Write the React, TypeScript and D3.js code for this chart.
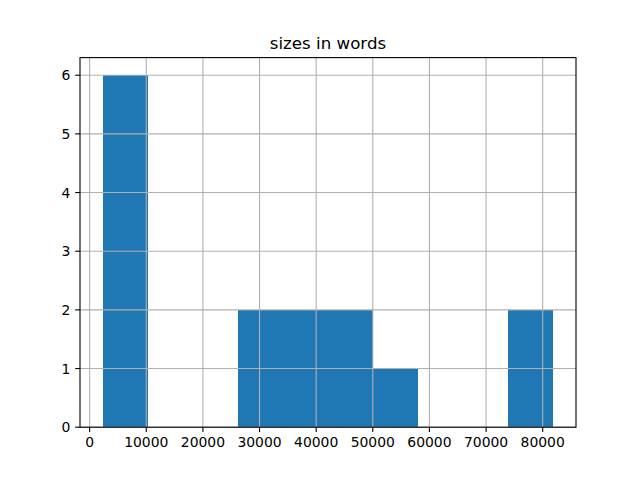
import React from "react";
import * as d3 from "d3";

const title = "sizes in words";
const counts = [6, 0, 0, 2, 2, 2, 1, 0, 0, 2];
const dataMin = 2280;
const dataMax = 81900;
const xTicks = [0, 10000, 20000, 30000, 40000, 50000, 60000, 70000, 80000];
const yTicks = [0, 1, 2, 3, 4, 5, 6];

const W = 640;
const H = 480;
const L = 80, R = 576, T = 57.6, B = 427.2;

export default function App() {
  const nb = counts.length;
  const bw = (dataMax - dataMin) / nb;
  const bins = counts.map((c, i) => ({ x0: dataMin + i * bw, x1: dataMin + (i + 1) * bw, c }));
  const pad = (dataMax - dataMin) * 0.05;
  const x = d3.scaleLinear().domain([dataMin - pad, dataMax + pad]).range([L, R]);
  const yMax = (d3.max(counts) as number) * 1.05;
  const y = d3.scaleLinear().domain([0, yMax]).range([B, T]);
  const font = "DejaVu Sans";
  const tl = 4.86;
  return (
    <svg width={W} height={H} style={{ position: "absolute", left: 0, top: 0, background: "#fff" }} fontFamily={font}>
      <rect x={0} y={0} width={W} height={H} fill="#fff" />
      <g shapeRendering="crispEdges">
        {bins.filter(b => b.c > 0).map((b, i) => (
          <rect key={i} x={x(b.x0)} y={y(b.c)} width={x(b.x1) - x(b.x0)} height={B - y(b.c)} fill="#1f77b4" />
        ))}
      </g>
      <g stroke="#b0b0b0" strokeWidth={1.1}>
        {xTicks.map(t => (
          <line key={"gx" + t} x1={x(t)} x2={x(t)} y1={T} y2={B} />
        ))}
        {yTicks.map(t => (
          <line key={"gy" + t} x1={L} x2={R} y1={y(t)} y2={y(t)} />
        ))}
      </g>
      <rect x={L} y={T} width={R - L} height={B - T} fill="none" stroke="#000" strokeWidth={1.1} />
      <g stroke="#000" strokeWidth={1.1}>
        {xTicks.map(t => (
          <line key={"tx" + t} x1={x(t)} x2={x(t)} y1={B} y2={B + tl} />
        ))}
        {yTicks.map(t => (
          <line key={"ty" + t} x1={L - tl} x2={L} y1={y(t)} y2={y(t)} />
        ))}
      </g>
      <g fontSize={13.9} fill="#000">
        {xTicks.map(t => (
          <text key={"lx" + t} x={x(t)} y={B + tl + 4.86} dy="0.76em" textAnchor="middle">{String(t)}</text>
        ))}
        {yTicks.map(t => (
          <text key={"ly" + t} x={L - tl - 4.86} y={y(t)} dy="0.36em" textAnchor="end">{String(t)}</text>
        ))}
      </g>
      <text x={(L + R) / 2} y={T - 8.33} fontSize={16.67} textAnchor="middle" fill="#000">{title}</text>
    </svg>
  );
}
